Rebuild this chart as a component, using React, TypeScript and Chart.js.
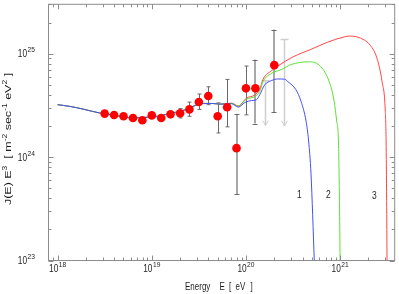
import React, { useEffect, useRef } from 'react';
import { Chart, registerables } from 'chart.js';

Chart.register(...registerables);

// ---------- data ----------
const pointE = [3.16e18, 3.98e18, 5.01e18, 6.31e18, 7.94e18, 1.0e19, 1.26e19, 1.58e19, 2.0e19, 2.51e19, 3.16e19, 3.98e19, 5.01e19, 6.31e19, 7.94e19, 1.0e20, 1.26e20, 2.0e20];
const pointJ = [2.63e24, 2.55e24, 2.48e24, 2.39e24, 2.27e24, 2.53e24, 2.39e24, 2.59e24, 2.65e24, 2.89e24, 3.41e24, 3.89e24, 2.48e24, 3.03e24, 1.22e24, 4.62e24, 4.62e24, 7.74e24];
const errLow = [null, null, null, null, null, null, null, null, 2.39e24, 2.48e24, 2.89e24, 3.21e24, 1.71e24, 1.96e24, 4.35e23, 2.56e24, 2.11e24, 2.72e24];
const errHigh = [null, null, null, null, null, null, null, null, 2.94e24, 3.4e24, 4.07e24, 4.78e24, 3.34e24, 5.63e24, 2.62e24, 7.59e24, 8.77e24, 1.71e25];
const errSet = ['a', 'a', 'a', 'a', 'a', 'a', 'a', 'a', 'a', 'a', 'a', 'a', 'a', 'a', 'b', 'a', 'b', 'b'];

const limitE = [1.58e20, 2.51e20];
const limitTop = [5.48e24, 1.37e25];
const limitBottom = [2.02e24, 2.0e24];

const curve1E = [1.0e18, 1.35e18, 1.86e18, 2.79e18, 4.18e18, 6.25e18, 9.0e18, 1.15e19, 1.4e19, 1.79e19, 2.28e19, 2.9e19, 3.55e19, 4.35e19, 5.32e19, 7.05e19, 8.3e19, 9.75e19, 1.15e20, 1.29e20, 1.4e20, 1.58e20, 1.86e20, 2.18e20, 2.57e20, 2.79e20, 3.4e20, 3.85e20, 4.35e20, 4.63e20, 4.91e20, 5.32e20];
const curve1J = [3.21e24, 3.09e24, 2.91e24, 2.67e24, 2.52e24, 2.39e24, 2.43e24, 2.48e24, 2.58e24, 2.71e24, 2.87e24, 3.16e24, 3.3e24, 3.3e24, 3.25e24, 3.28e24, 3.04e24, 3.37e24, 3.52e24, 3.58e24, 4.0e24, 4.99e24, 5.48e24, 5.69e24, 5.66e24, 5.36e24, 4.47e24, 3.45e24, 2.22e24, 1.43e24, 6.85e23, 1.0e23];

const curve2E = [1.0e18, 1.35e18, 1.86e18, 2.79e18, 4.18e18, 6.25e18, 9.0e18, 1.15e19, 1.4e19, 1.79e19, 2.28e19, 2.9e19, 3.55e19, 4.35e19, 5.32e19, 7.05e19, 8.3e19, 1.01e20, 1.24e20, 1.4e20, 1.52e20, 1.86e20, 2.37e20, 3.02e20, 4.72e20, 6.25e20, 7.66e20, 8.65e20, 9.2e20, 9.6e20, 9.84e20, 1.0e21];
const curve2J = [3.21e24, 3.09e24, 2.91e24, 2.67e24, 2.52e24, 2.39e24, 2.43e24, 2.48e24, 2.58e24, 2.71e24, 2.87e24, 3.16e24, 3.3e24, 3.3e24, 3.25e24, 3.3e24, 3.1e24, 3.63e24, 3.85e24, 4.31e24, 5.37e24, 6.44e24, 7.0e24, 7.85e24, 8.34e24, 7.46e24, 5.36e24, 3.45e24, 2.22e24, 1.43e24, 3.81e23, 1.0e23];

const curve3E = [1.0e18, 1.35e18, 1.86e18, 2.79e18, 4.18e18, 6.25e18, 9.0e18, 1.15e19, 1.4e19, 1.79e19, 2.28e19, 2.9e19, 3.55e19, 4.35e19, 5.32e19, 7.05e19, 8.3e19, 1.01e20, 1.24e20, 1.4e20, 1.52e20, 1.86e20, 2.18e20, 3.15e20, 4.9e20, 7.35e20, 1.1e21, 1.27e21, 1.65e21, 2.1e21, 2.47e21, 2.79e21, 3.02e21, 3.08e21, 3.12e21, 3.15e21];
const curve3J = [3.21e24, 3.09e24, 2.91e24, 2.67e24, 2.52e24, 2.39e24, 2.43e24, 2.48e24, 2.58e24, 2.71e24, 2.87e24, 3.16e24, 3.3e24, 3.3e24, 3.25e24, 3.32e24, 3.12e24, 3.71e24, 3.98e24, 4.5e24, 5.66e24, 6.82e24, 7.59e24, 9.29e24, 1.1e25, 1.29e25, 1.45e25, 1.48e25, 1.41e25, 1.2e25, 8.95e24, 5.36e24, 2.77e24, 1.43e24, 3.8e23, 1.0e23];

const curveLabelText = ['1', '2', '3'];
const curveLabelE = [3.7e20, 7.5e20, 2.31e21];
const curveLabelJ = [4.4e23, 4.4e23, 4.3e23];

const xMajorTicks = [1e18, 1e19, 1e20, 1e21];
const xMajorExp = ['18', '19', '20', '21'];
const yMajorTicks = [1e23, 1e24, 1e25];
const yMajorExp = ['23', '24', '25'];

const X_MIN = 8e17;
const X_MAX = 3.8e21;
const Y_MIN = 1e23;
const Y_MAX = 3e25;

// ---------- helpers ----------
const FONT = '"Liberation Sans", Arial, Helvetica, sans-serif';

function textW(ctx: CanvasRenderingContext2D, t: string, size: number) {
  ctx.font = `${size}px ${FONT}`;
  return ctx.measureText(t).width;
}

function drawText(ctx: CanvasRenderingContext2D, t: string, x: number, y: number, size: number, sx: number) {
  ctx.save();
  ctx.font = `${size}px ${FONT}`;
  ctx.textAlign = 'left';
  ctx.textBaseline = 'alphabetic';
  ctx.translate(x, y);
  ctx.scale(sx, 1);
  ctx.fillText(t, 0, 0);
  ctx.restore();
}

function powerLabel(ctx: CanvasRenderingContext2D, exp: string, x: number, y: number, align: string) {
  const w10 = textW(ctx, '10', 10) * 0.83;
  const we = textW(ctx, exp, 7) * 0.95;
  const gap = 0.5;
  const total = w10 + gap + we;
  const x0 = align === 'center' ? x - total / 2 : x - total;
  drawText(ctx, '10', x0, y, 10, 0.83);
  drawText(ctx, exp, x0 + w10 + gap, y - 5, 7, 0.95);
}

function minorTicks(majors: number[], min: number, max: number) {
  const out: number[] = [];
  const lo = majors[0] / 10;
  for (let base = lo; base <= max; base *= 10) {
    for (let k = 2; k <= 9; k++) {
      const v = k * base;
      if (v > min && v < max) out.push(v);
    }
  }
  return out;
}

const errorBarPlugin = {
  id: 'errorBars',
  beforeDatasetsDraw(chart: any) {
    const { ctx, chartArea: a, scales } = chart;
    const xs = scales.x;
    const ys = scales.y;
    ctx.save();
    ctx.beginPath();
    ctx.rect(a.left, a.top, a.right - a.left, a.bottom - a.top);
    ctx.clip();
    // upper limits
    for (let i = 0; i < limitE.length; i++) {
      const px = Math.round(xs.getPixelForValue(limitE[i])) + 0.5;
      const t = ys.getPixelForValue(limitTop[i]);
      const b = ys.getPixelForValue(limitBottom[i]);
      ctx.strokeStyle = '#cfcfcf';
      ctx.lineWidth = 1.5;
      ctx.beginPath();
      ctx.moveTo(px, t);
      ctx.lineTo(px, b);
      ctx.moveTo(px - 4, t);
      ctx.lineTo(px + 4, t);
      ctx.stroke();
      ctx.lineWidth = 1;
      ctx.beginPath();
      ctx.moveTo(px - 2.8, b - 5);
      ctx.lineTo(px, b);
      ctx.lineTo(px + 2.8, b - 5);
      ctx.stroke();
    }
    // error bars
    for (let i = 0; i < pointE.length; i++) {
      if (errLow[i] == null || errHigh[i] == null) continue;
      const raw = xs.getPixelForValue(pointE[i]);
      const t = ys.getPixelForValue(errHigh[i] as number);
      const b = ys.getPixelForValue(errLow[i] as number);
      if (errSet[i] === 'a') {
        const px = Math.round(raw) + 0.5;
        ctx.strokeStyle = '#6a6a6a';
        ctx.lineWidth = 1;
        ctx.beginPath();
        ctx.moveTo(px, t);
        ctx.lineTo(px, b);
        ctx.moveTo(px - 2, t);
        ctx.lineTo(px + 2, t);
        ctx.moveTo(px - 2, b);
        ctx.lineTo(px + 2, b);
        ctx.stroke();
      } else {
        const px = Math.round(raw);
        ctx.strokeStyle = '#a8a8a8';
        ctx.lineWidth = 2;
        ctx.beginPath();
        ctx.moveTo(px, t);
        ctx.lineTo(px, b);
        ctx.stroke();
        ctx.strokeStyle = '#6a6a6a';
        ctx.lineWidth = 1;
        ctx.beginPath();
        ctx.moveTo(px - 2.5, Math.round(t) + 0.5);
        ctx.lineTo(px + 2.5, Math.round(t) + 0.5);
        ctx.moveTo(px - 2.5, Math.round(b) + 0.5);
        ctx.lineTo(px + 2.5, Math.round(b) + 0.5);
        ctx.stroke();
      }
    }
    ctx.restore();
  },
};

const framePlugin = {
  id: 'gnuFrame',
  afterDatasetsDraw(chart: any) {
    const { ctx, chartArea: a, scales } = chart;
    const xs = scales.x;
    const ys = scales.y;
    ctx.save();
    ctx.strokeStyle = '#8c8c8c';
    ctx.lineWidth = 1;
    ctx.strokeRect(a.left, a.top, a.right - a.left, a.bottom - a.top);

    ctx.beginPath();
    const xMin = minorTicks(xMajorTicks, X_MIN, X_MAX);
    const yMin = minorTicks(yMajorTicks, Y_MIN, Y_MAX);
    const xTick = (v: number, len: number) => {
      const px = Math.round(xs.getPixelForValue(v)) + 0.5;
      ctx.moveTo(px, a.bottom);
      ctx.lineTo(px, a.bottom - len);
      ctx.moveTo(px, a.top);
      ctx.lineTo(px, a.top + len);
    };
    const yTick = (v: number, len: number) => {
      const py = Math.round(ys.getPixelForValue(v)) + 0.5;
      ctx.moveTo(a.left, py);
      ctx.lineTo(a.left + len, py);
      ctx.moveTo(a.right, py);
      ctx.lineTo(a.right - len, py);
    };
    xMajorTicks.forEach((v) => xTick(v, 5));
    xMin.forEach((v) => xTick(v, 3));
    yMajorTicks.forEach((v) => yTick(v, 5));
    yMin.forEach((v) => yTick(v, 3));
    ctx.stroke();

    // tick labels
    ctx.fillStyle = '#1e1e1e';
    xMajorTicks.forEach((v, i) => {
      const px = xs.getPixelForValue(v);
      powerLabel(ctx, xMajorExp[i], px, a.bottom + 11.3, 'center');
    });
    yMajorTicks.forEach((v, i) => {
      const py = ys.getPixelForValue(v);
      powerLabel(ctx, yMajorExp[i], a.left - 13.5, py + 3.6, 'right');
    });

    // curve labels
    curveLabelText.forEach((t, i) => {
      const px = xs.getPixelForValue(curveLabelE[i]);
      const py = ys.getPixelForValue(curveLabelJ[i]);
      const w = textW(ctx, t, 10) * 0.85;
      drawText(ctx, t, px - w / 2, py + 3.6, 10, 0.85);
    });

    // x title
    const xs2 = 0.8;
    const xf = 10;
    drawText(ctx, 'Energy', 185, 290, xf, xs2);
    drawText(ctx, 'E', 219.5, 290, xf, xs2);
    drawText(ctx, '[', 229, 290, xf, xs2);
    drawText(ctx, 'eV', 235.5, 290, xf, xs2);
    drawText(ctx, ']', 250.5, 290, xf, xs2);

    // y title (rotated, with superscripts)
    const pieces: { t: string; sup?: boolean }[] = [
      { t: 'J(E) E' },
      { t: '3', sup: true },
      { t: '  [ m' },
      { t: '-2', sup: true },
      { t: ' sec' },
      { t: '-1', sup: true },
      { t: ' eV' },
      { t: '2', sup: true },
      { t: ' ]' },
    ];
    const big = 12.5;
    const small = 8.5;
    let total = 0;
    pieces.forEach((p) => (total += textW(ctx, p.t, p.sup ? small : big)));
    ctx.save();
    ctx.translate(11.2, 139);
    ctx.scale(0.78, 1);
    ctx.rotate(-Math.PI / 2);
    let cx = -total / 2;
    pieces.forEach((p) => {
      const s = p.sup ? small : big;
      ctx.font = `${s}px ${FONT}`;
      ctx.textAlign = 'left';
      ctx.textBaseline = 'alphabetic';
      ctx.fillText(p.t, cx, p.sup ? -5 : 0);
      cx += ctx.measureText(p.t).width;
    });
    ctx.restore();

    ctx.restore();
  },
};

function toXY(xs: number[], ys: number[]) {
  return xs.map((x, i) => ({ x, y: ys[i] }));
}

export default function App() {
  const ref = useRef<HTMLCanvasElement | null>(null);
  useEffect(() => {
    if (!ref.current) return;
    const chart = new Chart(ref.current, {
      type: 'scatter',
      data: {
        datasets: [
          {
            label: 'data',
            data: toXY(pointE, pointJ),
            showLine: false,
            pointRadius: 4.3,
            pointBackgroundColor: '#ff0000',
            pointBorderColor: '#ff0000',
            pointBorderWidth: 0,
            order: 0,
          },
          {
            label: '1',
            data: toXY(curve1E, curve1J),
            showLine: true,
            borderColor: 'rgb(70,80,240)',
            borderWidth: 1,
            pointRadius: 0,
            cubicInterpolationMode: 'monotone',
            order: 1,
          },
          {
            label: '2',
            data: toXY(curve2E, curve2J),
            showLine: true,
            borderColor: 'rgb(90,225,50)',
            borderWidth: 1,
            pointRadius: 0,
            cubicInterpolationMode: 'monotone',
            order: 2,
          },
          {
            label: '3',
            data: toXY(curve3E, curve3J),
            showLine: true,
            borderColor: 'rgb(255,70,70)',
            borderWidth: 1,
            pointRadius: 0,
            cubicInterpolationMode: 'monotone',
            order: 3,
          },
        ],
      } as any,
      options: {
        animation: false,
        responsive: false,
        events: [],
        layout: { padding: { left: 48.5, right: 1.5, top: 1.5, bottom: 33.5 } },
        scales: {
          x: { type: 'logarithmic', min: X_MIN, max: X_MAX, display: false },
          y: { type: 'logarithmic', min: Y_MIN, max: Y_MAX, display: false },
        },
        plugins: {
          legend: { display: false },
          tooltip: { enabled: false },
        },
      } as any,
      plugins: [errorBarPlugin, framePlugin],
    });
    return () => chart.destroy();
  }, []);
  return (
    <div style={{ position: 'fixed', left: 0, top: 0, width: 399, height: 294, background: '#fff' }}>
      <canvas ref={ref} width={399} height={294} style={{ display: 'block', width: 399, height: 294 }} />
    </div>
  );
}
